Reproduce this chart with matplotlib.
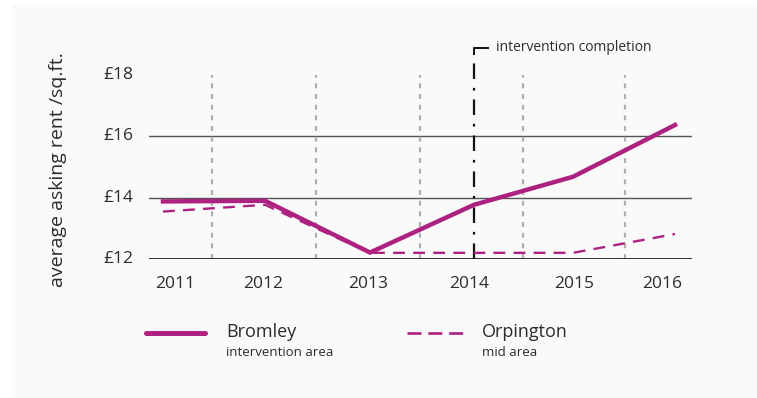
import matplotlib
matplotlib.use("Agg")
import matplotlib.pyplot as plt
from matplotlib.lines import Line2D
from matplotlib.patches import Rectangle

plt.rcParams['font.family'] = ['Open Sans', 'DejaVu Sans']

years = ["2011", "2012", "2013", "2014", "2015", "2016"]
# horizontal positions of the points and of the year labels (uneven spacing)
point_x = [163, 265, 370, 474, 573, 675]
label_x = [175, 263, 368, 469, 574, 662]
bromley = [13.88, 13.9, 12.22, 13.77, 14.68, 16.36]
orpington = [13.55, 13.77, 12.21, 12.21, 12.21, 12.82]

rent_ticks = [12, 14, 16, 18]
rent_labels = ["£12", "£14", "£16", "£18"]
year_dividers = [212, 316, 420, 523, 625]
completion_idx = 3

MAGENTA = "#ad2181"
TEXT = "#2b2b2b"

W, H = 757, 398
fig = plt.figure(figsize=(W / 100, H / 100), dpi=100)
fig.patch.set_facecolor("white")
fig.add_artist(Rectangle((12 / W, 0), 1 - 12 / W, 1 - 5 / H,
                         transform=fig.transFigure, facecolor="#fafafa",
                         edgecolor="none", zorder=-10))

# axes placed in pixel terms: x 149..692, y 12 at px 259.3, 30.8 px per unit
px_per = 30.8
y0_px = 259.3
ymax = 19
ax = fig.add_axes([149 / W, (H - y0_px) / H, (692 - 149) / W, (ymax - 12) * px_per / H])
ax.set_xlim(149, 692)
ax.set_ylim(12, ymax)
ax.patch.set_alpha(0)
for s in ax.spines.values():
    s.set_visible(False)
ax.set_xticks([])
ax.set_yticks([])

# grid lines
ax.axhline(12, color="#1a1a1a", lw=2.0, zorder=2)
for v in rent_ticks[1:3]:
    ax.axhline(v, color="#555555", lw=1.0, zorder=1)

for xv in year_dividers:
    ax.plot([xv, xv], [12, 18], color="#b0b0b0", lw=1.6,
            dashes=(2.2, 2.6), zorder=1, solid_capstyle="butt")

# intervention completion marker
cx = point_x[completion_idx]
ax.plot([cx, cx], [12, 18.55], color="#111111", lw=1.6,
        dashes=(7, 4, 1.2, 4), zorder=3, clip_on=False)
ax.plot([cx, cx, cx + 15], [18.62, 18.86, 18.86], color="#111111", lw=1.4,
        clip_on=False, zorder=3, solid_capstyle="butt")
ax.text(cx + 22, 18.88, "intervention completion", fontsize=10, color=TEXT,
        va="center", ha="left")

# series
ax.plot(point_x, orpington, color=MAGENTA, lw=1.7, dashes=(5, 3.5), zorder=4)
ax.plot(point_x, bromley, color=MAGENTA, lw=3.2, zorder=5,
        solid_joinstyle="miter")

# tick labels
for v, lab in zip(rent_ticks, rent_labels):
    ax.text(133, v, lab, fontsize=12.5, color=TEXT, ha="right", va="center",
            clip_on=False)
for xl, lab in zip(label_x, years):
    ax.text(xl, 11.2, lab, fontsize=12.5, color=TEXT, ha="center", va="center",
            clip_on=False)

fig.text(58 / W, 1 - 170 / H, "average asking rent /sq.ft.", rotation=90,
         fontsize=14, color=TEXT, ha="center", va="center")

# legend
fig.add_artist(Line2D([146 / W, 205 / W], [1 - 333 / H] * 2, color=MAGENTA,
                      lw=3.6, solid_capstyle="round", transform=fig.transFigure))
fig.text(226 / W, 1 - 332 / H, "Bromley", fontsize=13, color=TEXT,
         ha="left", va="center")
fig.text(226 / W, 1 - 353 / H, "intervention area", fontsize=9.5, color=TEXT,
         ha="left", va="center")

fig.add_artist(Line2D([407 / W, 463 / W], [1 - 333 / H] * 2, color=MAGENTA,
                      lw=1.9, dashes=(5.3, 2.6), transform=fig.transFigure))
fig.text(482 / W, 1 - 332 / H, "Orpington", fontsize=13, color=TEXT,
         ha="left", va="center")
fig.text(482 / W, 1 - 353 / H, "mid area", fontsize=9.5, color=TEXT,
         ha="left", va="center")

fig.savefig("out.png", dpi=100, facecolor=fig.get_facecolor())
